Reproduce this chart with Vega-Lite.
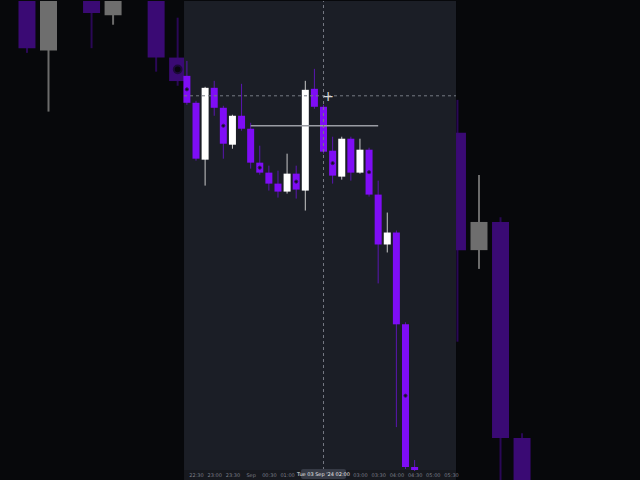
{
  "$schema": "https://vega.github.io/schema/vega-lite/v6.json",
  "width": 640,
  "height": 480,
  "autosize": {"type": "fit", "contains": "padding"},
  "padding": 0,
  "background": "#07080b",
  "config": {"view": {"stroke": null}},
  "datasets": {
    "candles": [
      {"t": "2024-09-02T22:15:00Z", "o": 2405, "h": 2420, "l": 2376, "c": 2378},
      {"t": "2024-09-02T22:30:00Z", "o": 2378, "h": 2380, "l": 2320, "c": 2322},
      {"t": "2024-09-02T22:45:00Z", "o": 2321, "h": 2394, "l": 2295, "c": 2393},
      {"t": "2024-09-02T23:00:00Z", "o": 2393, "h": 2400, "l": 2365, "c": 2373},
      {"t": "2024-09-02T23:15:00Z", "o": 2373, "h": 2375, "l": 2322, "c": 2337},
      {"t": "2024-09-02T23:30:00Z", "o": 2336, "h": 2366, "l": 2332, "c": 2365},
      {"t": "2024-09-02T23:45:00Z", "o": 2365, "h": 2397, "l": 2350, "c": 2352},
      {"t": "2024-09-03T00:00:00Z", "o": 2352, "h": 2358, "l": 2312, "c": 2318},
      {"t": "2024-09-03T00:15:00Z", "o": 2318, "h": 2335, "l": 2306, "c": 2308},
      {"t": "2024-09-03T00:30:00Z", "o": 2308, "h": 2315, "l": 2290, "c": 2297},
      {"t": "2024-09-03T00:45:00Z", "o": 2297, "h": 2310, "l": 2283, "c": 2289},
      {"t": "2024-09-03T01:00:00Z", "o": 2289, "h": 2327, "l": 2287, "c": 2307},
      {"t": "2024-09-03T01:15:00Z", "o": 2307, "h": 2315, "l": 2282, "c": 2291},
      {"t": "2024-09-03T01:30:00Z", "o": 2290, "h": 2400, "l": 2270, "c": 2391},
      {"t": "2024-09-03T01:45:00Z", "o": 2392, "h": 2412, "l": 2372, "c": 2374},
      {"t": "2024-09-03T02:00:00Z", "o": 2374, "h": 2376, "l": 2327, "c": 2329},
      {"t": "2024-09-03T02:15:00Z", "o": 2330, "h": 2344, "l": 2297, "c": 2305},
      {"t": "2024-09-03T02:30:00Z", "o": 2304, "h": 2344, "l": 2301, "c": 2342},
      {"t": "2024-09-03T02:45:00Z", "o": 2342, "h": 2344, "l": 2300, "c": 2308},
      {"t": "2024-09-03T03:00:00Z", "o": 2308, "h": 2342, "l": 2307, "c": 2331},
      {"t": "2024-09-03T03:15:00Z", "o": 2331, "h": 2333, "l": 2284, "c": 2286},
      {"t": "2024-09-03T03:30:00Z", "o": 2286, "h": 2300, "l": 2197, "c": 2236},
      {"t": "2024-09-03T03:45:00Z", "o": 2236, "h": 2268, "l": 2228, "c": 2248},
      {"t": "2024-09-03T04:00:00Z", "o": 2248, "h": 2250, "l": 2053, "c": 2156},
      {"t": "2024-09-03T04:15:00Z", "o": 2156, "h": 2158, "l": 2011, "c": 2013},
      {"t": "2024-09-03T04:30:00Z", "o": 2013, "h": 2020, "l": 2009, "c": 2010}
    ]
  },
  "resolve": {"scale": {"x": "independent", "y": "independent"}, "axis": {"x": "independent"}},
  "layer": [
    {
      "data": {"name": "candles"},
      "layer": [
        {
          "mark": {"type": "rule", "clip": true, "strokeWidth": 2},
          "encoding": {
            "x": {"field": "t", "type": "temporal", "axis": null,
                  "scale": {"type": "utc", "nice": false, "padding": 0, "domain": [
                    {"year": 2024, "month": 9, "date": 2, "hours": 22, "minutes": 11, "seconds": 12, "utc": true},
                    {"year": 2024, "month": 9, "date": 3, "hours": 5, "minutes": 37, "seconds": 12, "utc": true}]}},
            "y": {"field": "l", "type": "quantitative", "axis": null,
                  "scale": {"domain": [2138.1, 2342.1], "zero": false, "nice": false}},
            "y2": {"field": "h"},
            "color": {"condition": {"test": "datum.c > datum.o", "value": "#6b6b6b"}, "value": "#2a0856"}
          }
        },
        {
          "mark": {"type": "bar", "clip": true, "size": 17},
          "encoding": {
            "x": {"field": "t", "type": "temporal"},
            "y": {"field": "o", "type": "quantitative"},
            "y2": {"field": "c"},
            "color": {"condition": {"test": "datum.c > datum.o", "value": "#6e6e6e"}, "value": "#3a0a74"}
          }
        },
        {
          "transform": [
            {"filter": "utcminutes(toDate(datum.t)) == 15"},
            {"fold": ["o", "c"], "as": ["k", "v"]}
          ],
          "mark": {"type": "point", "clip": true, "filled": true, "size": 60, "color": "#08060e", "stroke": "#1d0a3a", "strokeWidth": 2},
          "encoding": {
            "x": {"field": "t", "type": "temporal"},
            "y": {"aggregate": "mean", "field": "v", "type": "quantitative"}
          }
        }
      ]
    },
    {
      "layer": [
        {
          "data": {"values": [{"a": "2024-09-02T22:10:14Z", "b": "2024-09-03T05:38:12Z", "lo": 2000, "hi": 2480}]},
          "mark": {"type": "rect", "color": "#1b1e26"},
          "encoding": {
            "x": {"field": "a", "type": "temporal",
                  "scale": {"type": "utc", "nice": false, "padding": 0, "domain": [
                    {"year": 2024, "month": 9, "date": 2, "hours": 17, "minutes": 7, "seconds": 12, "utc": true},
                    {"year": 2024, "month": 9, "date": 3, "hours": 10, "minutes": 41, "seconds": 12, "utc": true}]},
                  "axis": {
                    "orient": "bottom", "zindex": 1,
                    "title": null, "domain": false, "ticks": false, "grid": false,
                    "offset": -12, "labelPadding": 6, "labelBaseline": "middle",
                    "labelFontSize": 5, "labelColor": "#7c7f89", "labelFont": "DejaVu Sans",
                    "labelOverlap": false,
                    "values": [
                      {"year": 2024, "month": 9, "date": 2, "hours": 22, "minutes": 30, "utc": true},
                      {"year": 2024, "month": 9, "date": 2, "hours": 23, "minutes": 0, "utc": true},
                      {"year": 2024, "month": 9, "date": 2, "hours": 23, "minutes": 30, "utc": true},
                      {"year": 2024, "month": 9, "date": 3, "hours": 0, "minutes": 0, "utc": true},
                      {"year": 2024, "month": 9, "date": 3, "hours": 0, "minutes": 30, "utc": true},
                      {"year": 2024, "month": 9, "date": 3, "hours": 1, "minutes": 0, "utc": true},
                      {"year": 2024, "month": 9, "date": 3, "hours": 3, "minutes": 0, "utc": true},
                      {"year": 2024, "month": 9, "date": 3, "hours": 3, "minutes": 30, "utc": true},
                      {"year": 2024, "month": 9, "date": 3, "hours": 4, "minutes": 0, "utc": true},
                      {"year": 2024, "month": 9, "date": 3, "hours": 4, "minutes": 30, "utc": true},
                      {"year": 2024, "month": 9, "date": 3, "hours": 5, "minutes": 0, "utc": true},
                      {"year": 2024, "month": 9, "date": 3, "hours": 5, "minutes": 30, "utc": true}
                    ],
                    "labelExpr": "utchours(datum.value) == 0 && utcminutes(datum.value) == 0 ? 'Sep' : utcFormat(datum.value, '%H:%M')"
                  }},
            "x2": {"field": "b"},
            "y": {"field": "lo", "type": "quantitative", "axis": null,
                  "scale": {"domain": [2000, 2480], "zero": false, "nice": false}},
            "y2": {"field": "hi"}
          }
        },
        {
          "data": {"values": [{"a": "2024-09-02T22:10:14Z", "b": "2024-09-03T05:38:12Z", "lo": 2000, "hi": 2010}]},
          "mark": {"type": "rect", "color": "#17191f"},
          "encoding": {
            "x": {"field": "a", "type": "temporal"},
            "x2": {"field": "b"},
            "y": {"field": "lo", "type": "quantitative"},
            "y2": {"field": "hi"}
          }
        },
        {
          "data": {"name": "candles"},
          "mark": {"type": "rule", "strokeWidth": 1},
          "encoding": {
            "x": {"field": "t", "type": "temporal"},
            "y": {"field": "l", "type": "quantitative"},
            "y2": {"field": "h"},
            "color": {"condition": {"test": "datum.c > datum.o", "value": "#c9c9c9"}, "value": "#5a16b0"}
          }
        },
        {
          "data": {"name": "candles"},
          "mark": {"type": "bar", "size": 7},
          "encoding": {
            "x": {"field": "t", "type": "temporal"},
            "y": {"field": "o", "type": "quantitative"},
            "y2": {"field": "c"},
            "color": {"condition": {"test": "datum.c > datum.o", "value": "#ffffff"}, "value": "#7f0df5"}
          }
        },
        {
          "data": {"name": "candles"},
          "transform": [
            {"filter": "utcminutes(toDate(datum.t)) == 15"},
            {"fold": ["o", "c"], "as": ["k", "v"]}
          ],
          "mark": {"type": "point", "filled": true, "size": 10, "color": "#14101e", "stroke": "#3a1470", "strokeWidth": 1},
          "encoding": {
            "x": {"field": "t", "type": "temporal"},
            "y": {"aggregate": "mean", "field": "v", "type": "quantitative"}
          }
        },
        {
          "data": {"values": [{"a": "2024-09-03T00:00:00Z", "b": "2024-09-03T03:30:00Z", "p": 2355}]},
          "mark": {"type": "rule", "color": "#9a9ca3", "strokeWidth": 1.5},
          "encoding": {
            "x": {"field": "a", "type": "temporal"},
            "x2": {"field": "b"},
            "y": {"field": "p", "type": "quantitative"}
          }
        },
        {
          "data": {"values": [{"a": "2024-09-02T22:10:14Z", "b": "2024-09-03T05:38:12Z", "p": 2385}]},
          "mark": {"type": "rule", "color": "#767984", "strokeWidth": 1, "strokeDash": [3, 3]},
          "encoding": {
            "x": {"field": "a", "type": "temporal"},
            "x2": {"field": "b"},
            "y": {"field": "p", "type": "quantitative"}
          }
        },
        {
          "data": {"values": [{"a": "2024-09-03T02:00:00Z", "lo": 2010, "hi": 2480}]},
          "mark": {"type": "rule", "color": "#767984", "strokeWidth": 1, "strokeDash": [3, 3]},
          "encoding": {
            "x": {"field": "a", "type": "temporal"},
            "y": {"field": "lo", "type": "quantitative"},
            "y2": {"field": "hi"}
          }
        },
        {
          "data": {"values": [{"a": "2024-09-03T02:07:30Z", "p": 2384, "s": "+"}]},
          "mark": {"type": "text", "fontSize": 14, "font": "DejaVu Sans", "color": "#d6d6d6", "align": "center", "baseline": "middle"},
          "encoding": {
            "x": {"field": "a", "type": "temporal"},
            "y": {"field": "p", "type": "quantitative"},
            "text": {"field": "s"}
          }
        },
        {
          "data": {"values": [{"a": "2024-09-03T01:23:00Z", "b": "2024-09-03T02:37:00Z", "lo": 2001, "hi": 2011}]},
          "mark": {"type": "rect", "color": "#363a45", "cornerRadius": 2},
          "encoding": {
            "x": {"field": "a", "type": "temporal"},
            "x2": {"field": "b"},
            "y": {"field": "lo", "type": "quantitative"},
            "y2": {"field": "hi"}
          }
        },
        {
          "data": {"values": [{"a": "2024-09-03T02:00:00Z", "p": 2006, "s": "Tue 03 Sep '24   02:00"}]},
          "mark": {"type": "text", "fontSize": 5, "font": "DejaVu Sans", "color": "#e8e8e8", "align": "center", "baseline": "middle"},
          "encoding": {
            "x": {"field": "a", "type": "temporal"},
            "y": {"field": "p", "type": "quantitative"},
            "text": {"field": "s"}
          }
        }
      ]
    }
  ]
}
